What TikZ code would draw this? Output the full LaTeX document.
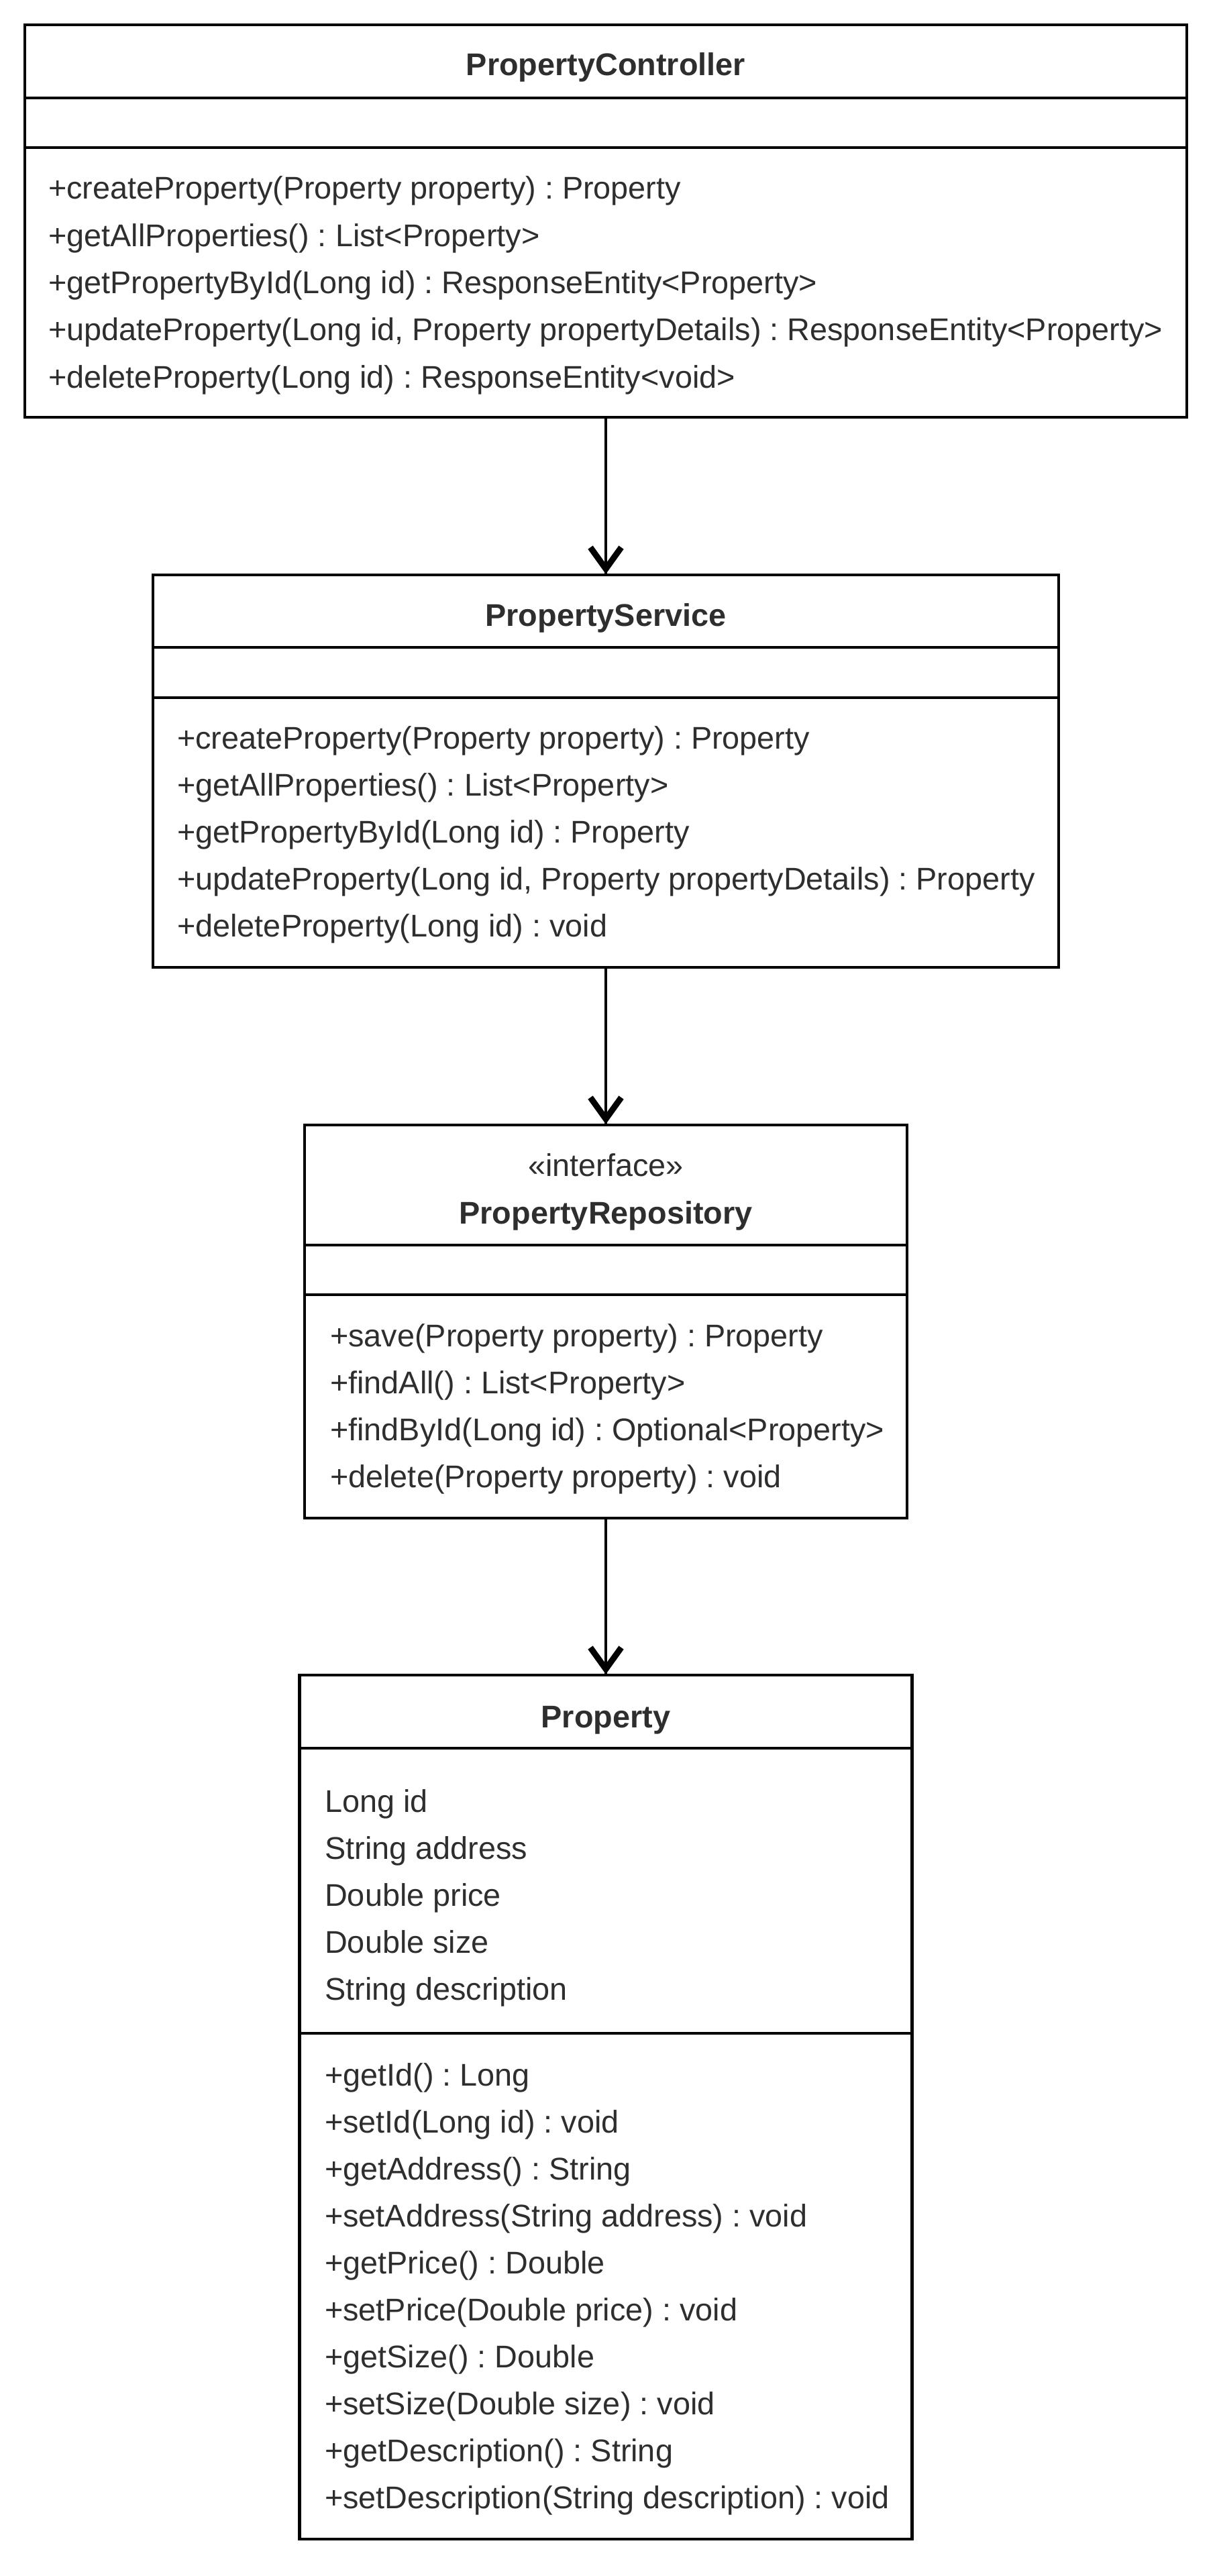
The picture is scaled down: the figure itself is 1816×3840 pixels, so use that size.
\documentclass[tikz,border=0pt]{standalone}
\usepackage{fontspec}
\setmainfont{Liberation Sans}
\definecolor{txt}{HTML}{2E2E2E}
\frenchspacing

\begin{document}
\begin{tikzpicture}[x=1pt,y=-1pt,
  classbox/.style={draw=black, line width=4.5pt, inner sep=0pt, outer sep=0pt, anchor=north west},
  sep/.style={draw=black, line width=4.5pt},
  member/.style={anchor=base west, inner sep=0pt, text=txt, font=\fontsize{46.8}{56}\selectfont},
  title/.style={anchor=base, inner sep=0pt, text=txt, font=\fontsize{46.8}{56}\selectfont\bfseries},
  stereo/.style={anchor=base, inner sep=0pt, text=txt, font=\fontsize{46.8}{56}\selectfont},
  dep/.style={draw=black, line width=4.5pt},
  barb/.style={draw=black, line width=9pt, line join=miter, miter limit=10}
]
\useasboundingbox (0,0) rectangle (1816,3840);

% ---------- PropertyController ----------
\node[classbox, minimum width=1732pt, minimum height=585pt] (pc) at (37,37) {};
\draw[sep] (pc.west |- 0,146) -- (pc.east |- 0,146);
\draw[sep] (pc.west |- 0,220) -- (pc.east |- 0,220);
\node[title] (pctitle) at (903,113) {PropertyController};
\foreach \m [count=\i from 0] in {
  {+createProperty(Property property) : Property},
  {+getAllProperties() : List<Property>},
  {+getPropertyById(Long id) : ResponseEntity<Property>},
  {+updateProperty(Long id, Property propertyDetails) : ResponseEntity<Property>},
  {+deleteProperty(Long id) : ResponseEntity<void>}}
  \node[member] (pcm\i) at (72,{297+70.3*\i}) {\m};

% ---------- PropertyService ----------
\node[classbox, minimum width=1350pt, minimum height=585pt] (ps) at (228,857) {};
\draw[sep] (ps.west |- 0,965) -- (ps.east |- 0,965);
\draw[sep] (ps.west |- 0,1040) -- (ps.east |- 0,1040);
\node[title] (pstitle) at (903,933) {PropertyService};
\foreach \m [count=\i from 0] in {
  {+createProperty(Property property) : Property},
  {+getAllProperties() : List<Property>},
  {+getPropertyById(Long id) : Property},
  {+updateProperty(Long id, Property propertyDetails) : Property},
  {+deleteProperty(Long id) : void}}
  \node[member] (psm\i) at (264,{1116+70.2*\i}) {\m};

% ---------- PropertyRepository ----------
\node[classbox, minimum width=898pt, minimum height=586pt] (pr) at (454,1677) {};
\draw[sep] (pr.west |- 0,1856) -- (pr.east |- 0,1856);
\draw[sep] (pr.west |- 0,1930) -- (pr.east |- 0,1930);
\node[stereo] (prstereo) at (903,1753) {«interface»};
\node[title] (prtitle) at (903,1824) {PropertyRepository};
\foreach \m [count=\i from 0] in {
  {+save(Property property) : Property},
  {+findAll() : List<Property>},
  {+findById(Long id) : Optional<Property>},
  {+delete(Property property) : void}}
  \node[member] (prm\i) at (492,{2007+70*\i}) {\m};

% ---------- Property ----------
\node[classbox, minimum width=913pt, minimum height=1288pt] (prop) at (446.5,2497) {};
\draw[sep] (prop.west |- 0,2606) -- (prop.east |- 0,2606);
\draw[sep] (prop.west |- 0,3031) -- (prop.east |- 0,3031);
\node[title] (proptitle) at (903,2575) {Property};
\foreach \m [count=\i from 0] in {
  {Long id},
  {String address},
  {Double price},
  {Double size},
  {String description}}
  \node[member] (propa\i) at (484,{2701+70.1*\i}) {\m};
\foreach \m [count=\i from 0] in {
  {+getId() : Long},
  {+setId(Long id) : void},
  {+getAddress() : String},
  {+setAddress(String address) : void},
  {+getPrice() : Double},
  {+setPrice(Double price) : void},
  {+getSize() : Double},
  {+setSize(Double size) : void},
  {+getDescription() : String},
  {+setDescription(String description) : void}}
  \node[member] (propm\i) at (484,{3109+70*\i}) {\m};

% ---------- dependencies (open arrowheads at the target) ----------
\foreach \src/\dst in {pc/ps, ps/pr, pr/prop} {
  \draw[dep] (\src.south) -- (\dst.north);
  \draw[barb] ([shift={(-23,-41)}]\dst.north) -- ([shift={(0,-9)}]\dst.north)
              -- ([shift={(23,-41)}]\dst.north);
}
\end{tikzpicture}
\end{document}
